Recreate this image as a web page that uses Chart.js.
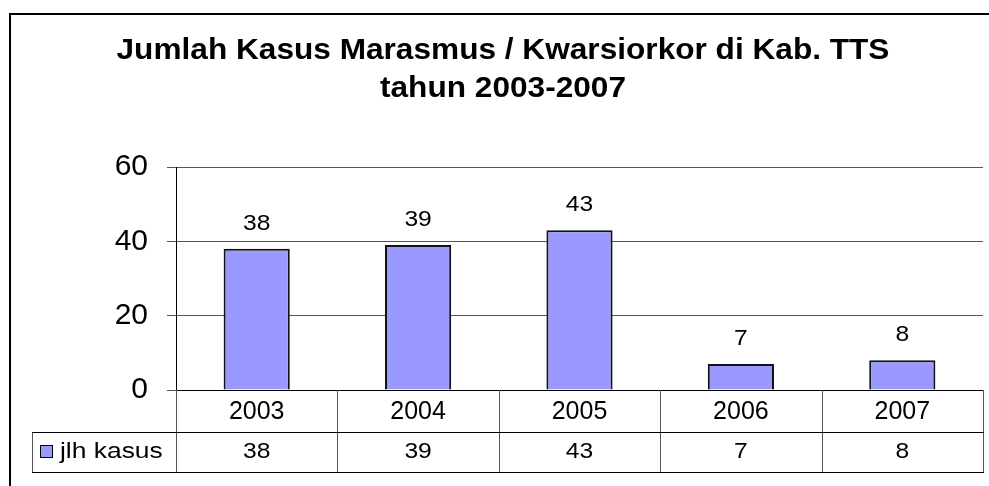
<!DOCTYPE html>
<html>
<head>
<meta charset="utf-8">
<script src="https://cdn.jsdelivr.net/npm/chart.js@4/dist/chart.umd.min.js"></script>
<style>
    body { margin: 0; background: #fff; }
    #grafikKasus { display: block; }
</style>
</head>
<body>
<canvas id="grafikKasus" width="989" height="486"></canvas>
<script>
/*Data grafik*/
var judul = ["Jumlah Kasus Marasmus / Kwarsiorkor di Kab. TTS", "tahun 2003-2007"];
var tahun = ["2003", "2004", "2005", "2006", "2007"];
var jlhKasus = [38, 39, 43, 7, 8];
var namaSeri = "jlh kasus";
var tickY = [0, 20, 40, 60];

var font = "'Liberation Sans', Arial, sans-serif";
var warnaBatang = "#9999FF";
var tinggiBaris = 40;

/*Teks yang sedikit melebar (gambar asli agak ditarik ke samping)*/
function TulisTeks(ctx, teks, x, y, lebarX) {
    ctx.save();
    ctx.translate(x, y);
    ctx.scale(lebarX, 1);
    ctx.fillText(teks, 0, 0);
    ctx.restore();
}

/*Bingkai dan judul*/
var pluginBingkai = {
    id: 'bingkai',
    beforeDraw: function (chart) {
        var ctx = chart.ctx;
        ctx.save();
        ctx.fillStyle = "#fff";
        ctx.fillRect(0, 0, chart.width, chart.height);
        ctx.strokeStyle = "#000";
        ctx.lineWidth = 2;
        ctx.strokeRect(10, 14, 988, 490);
        ctx.restore();
    },
    afterDraw: function (chart) {
        var ctx = chart.ctx;
        ctx.save();
        ctx.fillStyle = "#000";
        ctx.font = "bold 29px " + font;
        ctx.textAlign = "center";
        ctx.textBaseline = "alphabetic";
        TulisTeks(ctx, judul[0], 503, 59, 1.09);
        TulisTeks(ctx, judul[1], 503, 97, 1.09);
        ctx.restore();
    }
};

/*Label nilai di atas batang*/
var pluginLabel = {
    id: 'labelNilai',
    afterDatasetsDraw: function (chart) {
        var ctx = chart.ctx;
        var meta = chart.getDatasetMeta(0);
        ctx.save();
        ctx.fillStyle = "#000";
        ctx.font = "22px " + font;
        ctx.textAlign = "center";
        ctx.textBaseline = "middle";
        meta.data.forEach(function (bar, i) {
            TulisTeks(ctx, jlhKasus[i], bar.x, bar.y - 25, 1.12);
        });
        ctx.restore();
    }
};

/*Tabel data di bawah sumbu*/
var pluginTabel = {
    id: 'tabelData',
    afterDraw: function (chart) {
        var ctx = chart.ctx;
        var x = chart.scales.x;
        var atas = chart.scales.y.bottom;
        var tengah = x.bottom;
        var bawah = tengah + tinggiBaris;
        var kiri = x.left;
        var kanan = x.right;
        var lebar = (kanan - kiri) / tahun.length;
        var kiriLegenda = 32;

        ctx.save();
        // garis vertikal
        ctx.strokeStyle = "#555";
        ctx.lineWidth = 1;
        ctx.beginPath();
        for (var i = 0; i <= tahun.length; i++) {
            var gx = Math.round(kiri + i * lebar) + 0.5;
            ctx.moveTo(gx, atas);
            ctx.lineTo(gx, bawah);
        }
        ctx.moveTo(kiriLegenda + 0.5, tengah);
        ctx.lineTo(kiriLegenda + 0.5, bawah);
        ctx.stroke();

        // garis horizontal
        ctx.strokeStyle = "#000";
        ctx.beginPath();
        ctx.moveTo(kiriLegenda, tengah + 0.5);
        ctx.lineTo(kanan + 1, tengah + 0.5);
        ctx.moveTo(kiriLegenda, bawah + 0.5);
        ctx.lineTo(kanan + 1, bawah + 0.5);
        ctx.stroke();

        // nilai baris kedua
        ctx.fillStyle = "#000";
        ctx.font = "22px " + font;
        ctx.textAlign = "center";
        ctx.textBaseline = "middle";
        var yTeks = tengah + tinggiBaris / 2;
        jlhKasus.forEach(function (v, i) {
            TulisTeks(ctx, v, x.getPixelForValue(i), yTeks, 1.12);
        });

        // legenda
        ctx.fillStyle = warnaBatang;
        ctx.fillRect(40.5, yTeks - 6.5, 12, 12);
        ctx.strokeStyle = "#000";
        ctx.strokeRect(40.5, yTeks - 6.5, 12, 12);
        ctx.fillStyle = "#000";
        ctx.textAlign = "left";
        TulisTeks(ctx, namaSeri, 60, yTeks, 1.2);
        ctx.restore();
    }
};

/*Konstruksi grafik*/
var ctx = document.getElementById('grafikKasus').getContext('2d');
var grafik = new Chart(ctx, {
    type: 'bar',
    data: {
        labels: tahun,
        datasets: [{
            label: namaSeri,
            data: jlhKasus,
            backgroundColor: warnaBatang,
            borderColor: "#111",
            borderWidth: 2,
            categoryPercentage: 1,
            barPercentage: 0.41
        }]
    },
    options: {
        responsive: false,
        animation: false,
        layout: {
            padding: { top: 167, right: 6, bottom: 54, left: 0 }
        },
        plugins: {
            legend: { display: false },
            title: { display: false },
            tooltip: { enabled: false }
        },
        scales: {
            x: {
                afterFit: function (scale) { scale.height = 42; },
                grid: { display: false, drawTicks: false },
                border: { display: true, color: "#000", width: 1 },
                ticks: {
                    color: "#000",
                    padding: 7,
                    font: { family: font, size: 25 }
                }
            },
            y: {
                min: tickY[0],
                max: tickY[tickY.length - 1],
                afterFit: function (scale) { scale.width = 176; },
                afterBuildTicks: function (scale) {
                    scale.ticks = tickY.map(function (v) { return { value: v }; });
                },
                grid: { color: "#555", tickLength: 9, tickColor: "#555" },
                border: { color: "#000", width: 1 },
                ticks: {
                    color: "#000",
                    padding: 19,
                    font: { family: font, size: 30 }
                }
            }
        }
    },
    plugins: [pluginBingkai, pluginLabel, pluginTabel]
});
</script>
</body>
</html>
